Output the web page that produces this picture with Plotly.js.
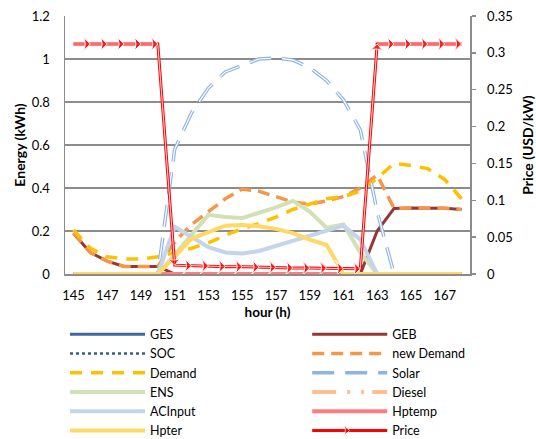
<!DOCTYPE html>
<html><head><meta charset="utf-8">
<script src="https://cdn.plot.ly/plotly-3.0.1.min.js"></script>
<style>html,body{margin:0;padding:0;background:#fff}#chart{width:536px;height:439px}</style>
</head><body><div id="chart"></div>
<script>
const hours = [145,146,147,148,149,150,151,152,153,154,155,156,157,158,159,160,161,162,163,164,165,166,167,168];
const xTickVals = [145,147,149,151,153,155,157,159,161,163,165,167];

const GES     = [0,0,0,0,0,0,0,0,0,0,0,0,0,0,0,0,0,0,0,0,0,0,0,0];
const GEB     = [0.19,0.10,0.06,0.035,0.035,0.035,0,0,0,0,0,0,0,0,0,0,0,0,0.20,0.305,0.307,0.308,0.306,0.30];
const SOC     = [0,0,0,0,0,0,0,0,0,0,0,0,0,0,0,0,0,0,0,0,0,0,0,0];
const newDemand = [0.19,0.10,0.06,0.035,0.035,0.035,0.15,0.23,0.29,0.35,0.395,0.385,0.36,0.335,0.325,0.34,0.36,0.40,0.46,0.305,0.307,0.308,0.306,0.30];
const Demand  = [0.205,0.12,0.08,0.07,0.07,0.08,0.10,0.12,0.145,0.18,0.21,0.235,0.265,0.30,0.325,0.35,0.36,0.385,0.445,0.515,0.505,0.49,0.44,0.35];
const Solar   = [0,0,0,0,0,0,0.58,0.75,0.865,0.94,0.97,1.0,1.005,0.995,0.96,0.90,0.81,0.67,0.29,0,0,0,0,0];
const ENS     = [0,0,0,0,0,0,0.09,0.18,0.275,0.265,0.26,0.285,0.31,0.34,0.29,0.215,0.23,0.10,0,0,0,0,0,0];
const Diesel  = [0,0,0,0,0,0,0,0,0,0,0,0,0,0,0,0,0,0,0,0,0,0,0,0];
const ACInput = [0,0,0,0,0,0,0.22,0.17,0.125,0.10,0.095,0.107,0.13,0.153,0.18,0.20,0.225,0.16,0,0,0,0,0,0];
const Hptemp  = [0,0,0,0,0,0,0,0,0,0,0,0,0,0,0,0,0,0,0,0,0,0,0,0];
const Hpter   = [0,0,0,0,0,0,0.08,0.165,0.195,0.225,0.228,0.222,0.21,0.19,0.16,0.135,0,0,0,0,0,0,0,0];
const Price   = [0.312,0.312,0.312,0.312,0.312,0.312,0.012,0.011,0.011,0.010,0.010,0.009,0.009,0.008,0.008,0.008,0.007,0.007,0.312,0.312,0.312,0.312,0.312,0.312];

const FONT = 'Lato, "Open Sans", sans-serif';

function ln(name, y, color, width, dash, legend, extra) {
  return Object.assign({
    type: 'scatter', mode: 'lines', name: name, x: hours, y: y,
    line: {color: color, width: width, dash: dash || 'solid'},
    legend: legend, hoverinfo: 'skip'
  }, extra || {});
}

// arrowheads at the end of each segment (none at the first point)
const arrowAll = Price.map((v, i) => i === 0 ? 0 : 12);
// right-pointing arrowheads for the flat segments (used by the legend entry)
const arrowFlat = Price.map((v, i) => (i > 0 && Math.abs(v - Price[i - 1]) < 0.05) ? 12 : 0);

const traces = [
  ln('GES', GES, '#41689E', 3, 'solid', 'legend'),
  ln('GEB', GEB, '#953735', 3, 'solid', 'legend2'),
  ln('SOC', SOC, '#385D8A', 2.5, 'dot', 'legend'),
  ln('new Demand', newDemand, '#F79646', 3.5, '12px,7px', 'legend2'),
  ln('Demand', Demand, '#FFC000', 3.5, '12px,9px', 'legend'),
  ln('Solar', Solar, '#8EB4E3', 3.5, '22px,11px', 'legend2'),
  ln('Solar', Solar, '#FFFFFF', 1.2, '22px,11px', 'legend2', {showlegend: false}),
  ln('ENS', ENS, '#D2E0B6', 4, 'solid', 'legend'),
  ln('Diesel', Diesel, '#FAC090', 4, '24px,11px,3px,11px,3px,8px', 'legend2'),
  ln('ACInput', ACInput, '#C3D5EA', 4, 'solid', 'legend'),
  ln('Hptemp', Hptemp, '#FF7C80', 4, 'solid', 'legend2'),
  ln('Hpter', Hpter, '#FFD966', 4, 'solid', 'legend'),
  ln('Price', Price, '#FF0000', 3, 'solid', 'legend2', {
    yaxis: 'y2', mode: 'lines+markers',
    marker: {symbol: 'arrow-wide', size: arrowFlat, color: '#FF0000', angle: 90, angleref: 'up'}
  }),
  ln('Price', Price, '#FFD6D6', 1, 'solid', 'legend2', {yaxis: 'y2', showlegend: false}),
  {type: 'scatter', mode: 'markers', name: 'Price', x: hours, y: Price, yaxis: 'y2',
   showlegend: false, hoverinfo: 'skip', legend: 'legend2',
   marker: {symbol: 'arrow-wide', size: arrowAll, color: '#FF0000', angleref: 'previous'}}
];

const layout = {
  width: 536, height: 439,
  margin: {l: 65, r: 66, t: 16, b: 165},
  paper_bgcolor: '#fff', plot_bgcolor: '#fff',
  font: {family: FONT, size: 13, color: '#000'},
  showlegend: true,
  xaxis: {
    range: [144.5, 168.5], tickmode: 'array', tickvals: xTickVals, ticktext: xTickVals.map(String),
    showgrid: false, zeroline: false, showline: true, linecolor: '#8C8C8C', linewidth: 1.5,
    ticks: '', ticklabelstandoff: 9, tickfont: {size: 13},
    title: {text: '<b>hour (h)</b>', font: {size: 13.5}, standoff: 12}
  },
  yaxis: {
    range: [0, 1.2], dtick: 0.2, tick0: 0,
    showgrid: true, gridcolor: '#8C8C8C', gridwidth: 1.5, zeroline: false,
    showline: true, linecolor: '#8C8C8C', linewidth: 1.5, ticks: '',
    ticklabelstandoff: 11, tickfont: {size: 13},
    title: {text: '<b>Energy (kWh)</b>', font: {size: 14}, standoff: 3}
  },
  yaxis2: {
    overlaying: 'y', side: 'right', range: [0, 0.35], dtick: 0.05, tick0: 0,
    showgrid: false, zeroline: false, showline: true, linecolor: '#8C8C8C', linewidth: 1.5,
    ticks: 'outside', ticklen: 4, tickcolor: '#8C8C8C', tickwidth: 1.5,
    ticklabelstandoff: 9, tickfont: {size: 13},
    title: {text: '<b>Price (USD/kW)</b>', font: {size: 14}, standoff: 12}
  },
  legend: {
    xref: 'paper', yref: 'container',
    x: 0, xanchor: 'left', y: 0.272, yanchor: 'top', orientation: 'v',
    itemwidth: 75, font: {size: 12.5}, bgcolor: 'rgba(0,0,0,0)', itemclick: false
  },
  legend2: {
    xref: 'paper', yref: 'container',
    x: 0.598, xanchor: 'left', y: 0.272, yanchor: 'top', orientation: 'v',
    itemwidth: 75, font: {size: 12.5}, bgcolor: 'rgba(0,0,0,0)', itemclick: false
  }
};

Plotly.newPlot('chart', traces, layout, {staticPlot: true, displayModeBar: false});
</script>
</body></html>
